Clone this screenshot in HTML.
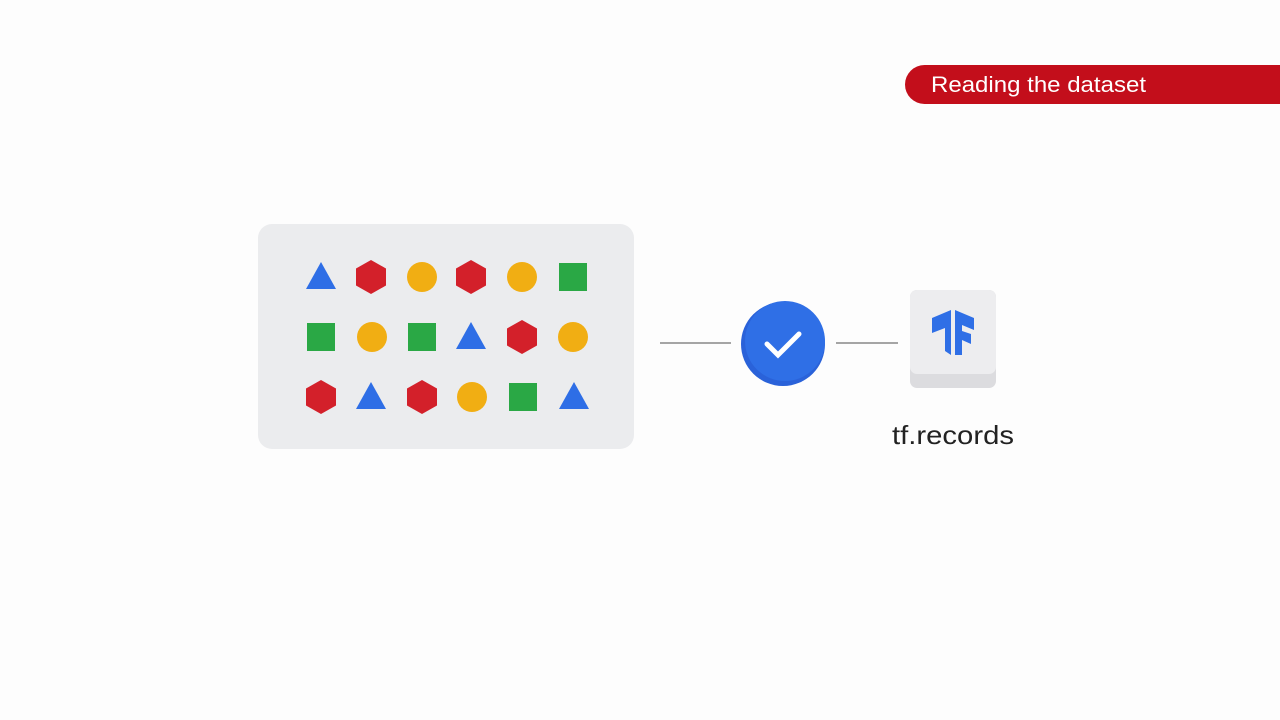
<!DOCTYPE html>
<html><head><meta charset="utf-8"><style>
body{margin:0;width:1280px;height:720px;background:#fdfdfd;overflow:hidden;font-family:"Liberation Sans",sans-serif}
</style></head><body>
<svg width="1280" height="720" xmlns="http://www.w3.org/2000/svg" style="position:absolute;left:0;top:0">
<defs>
<g id="tri"><polygon points="0,-15 15,12 -15,12" fill="#2e6ee6"/></g>
<g id="hex"><polygon points="0,-17 15,-8.5 15,8.5 0,17 -15,8.5 -15,-8.5" fill="#d3202a"/></g>
<g id="cir"><circle r="15" fill="#f1ae13"/></g>
<g id="sq"><rect x="-14" y="-14" width="28" height="28" fill="#2aa845"/></g>
</defs>
<rect x="905" y="65" width="400" height="39" rx="19.5" fill="#c30e1b"/>
<text x="931" y="92" font-size="22" fill="#fff" textLength="215" lengthAdjust="spacingAndGlyphs" font-family="Liberation Sans, sans-serif">Reading the dataset</text>
<rect x="258" y="224" width="376" height="225" rx="14" fill="#ebecee"/>
<use href="#tri" x="321" y="277"/><use href="#hex" x="371" y="277"/><use href="#cir" x="422" y="277"/><use href="#hex" x="471" y="277"/><use href="#cir" x="522" y="277"/><use href="#sq" x="573" y="277"/>
<use href="#sq" x="321" y="337"/><use href="#cir" x="372" y="337"/><use href="#sq" x="422" y="337"/><use href="#tri" x="471" y="337"/><use href="#hex" x="522" y="337"/><use href="#cir" x="573" y="337"/>
<use href="#hex" x="321" y="397"/><use href="#tri" x="371" y="397"/><use href="#hex" x="422" y="397"/><use href="#cir" x="472" y="397"/><use href="#sq" x="523" y="397"/><use href="#tri" x="574" y="397"/>
<line x1="660" y1="343" x2="731" y2="343" stroke="#888" stroke-width="1.5"/>
<line x1="836" y1="343" x2="898" y2="343" stroke="#888" stroke-width="1.5"/>
<circle cx="783" cy="344" r="42" fill="#2a62d9"/>
<circle cx="785" cy="341" r="40" fill="#2f6fe6"/>
<polyline points="767,344 778,355 799,334" fill="none" stroke="#fff" stroke-width="5" stroke-linecap="round"/>
<rect x="910" y="290" width="86" height="98" rx="7" fill="#dcdcdf"/>
<rect x="910" y="290" width="86" height="84" rx="7" fill="#ededef"/>
<path d="M932,318 L951,310 L951,355 L945,351 L945,328 L932,333Z M955,310 L974,318 L974,330 L962,325 L962,331 L971,334 L971,344 L962,340 L962,355 L955,355Z" fill="#2f6fe6"/>
<text x="892" y="444" font-size="26" fill="#222" textLength="122" lengthAdjust="spacingAndGlyphs" font-family="Liberation Sans, sans-serif">tf.records</text>
</svg>
</body></html>
